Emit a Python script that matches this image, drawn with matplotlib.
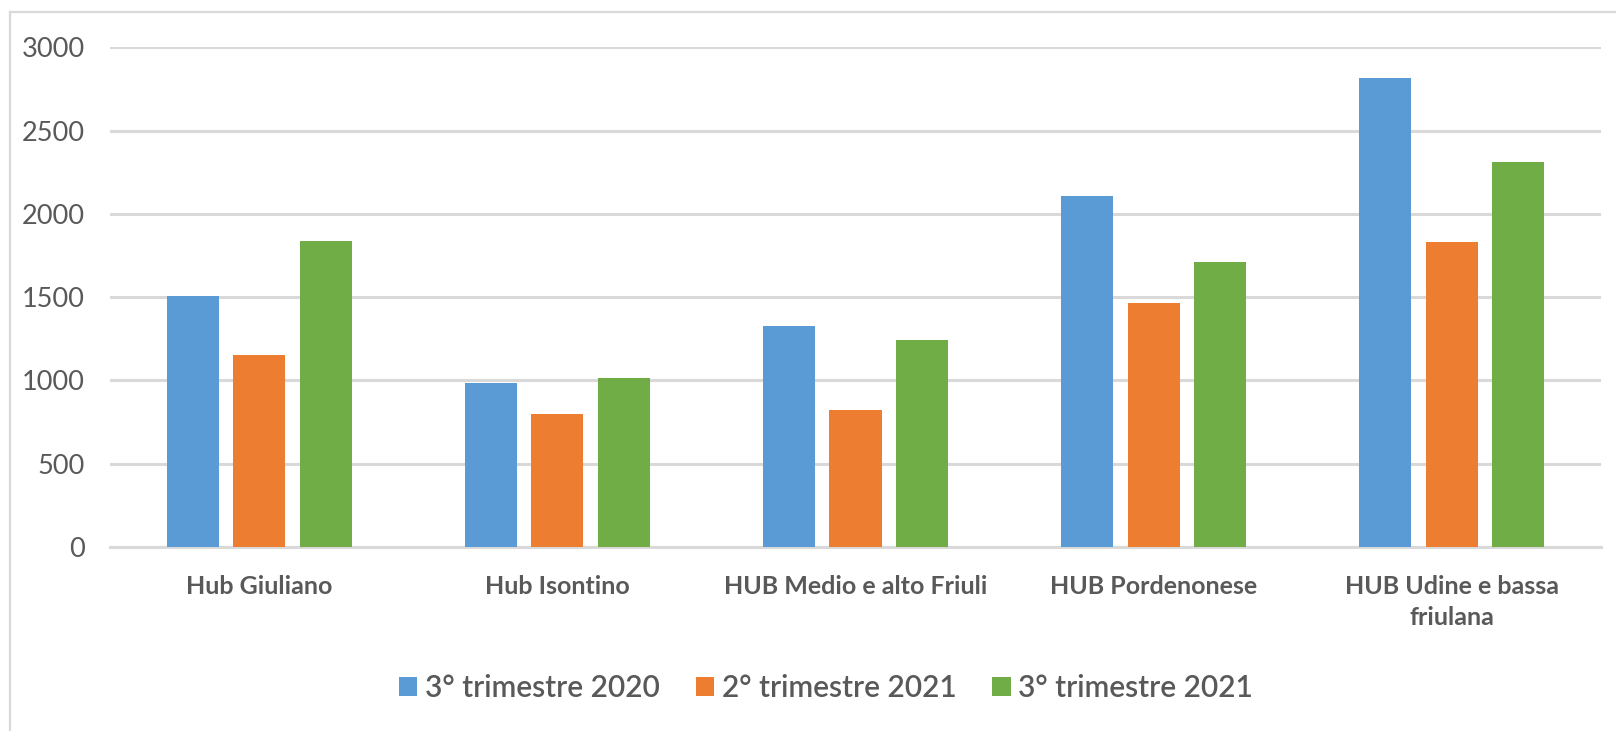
import matplotlib
matplotlib.use("Agg")
import matplotlib.pyplot as plt
from matplotlib.patches import Patch
from matplotlib.lines import Line2D
import numpy as np

categories = ["Hub Giuliano", "Hub Isontino", "HUB Medio e alto Friuli",
              "HUB Pordenonese", "HUB Udine e bassa\nfriulana"]
series_names = ["3° trimestre 2020", "2° trimestre 2021", "3° trimestre 2021"]
q3_2020 = [1505, 985, 1327, 2108, 2815]
q2_2021 = [1150, 800, 823, 1467, 1833]
q3_2021 = [1840, 1015, 1243, 1713, 2312]
yticks = [0, 500, 1000, 1500, 2000, 2500, 3000]

colors = ["#5B9BD5", "#ED7D31", "#70AD47"]
text_color = "#595959"
grid_color = "#D9D9D9"

plt.rcParams["font.family"] = ["Lato", "DejaVu Sans"]

W, H = 1616, 731
fig = plt.figure(figsize=(W / 100, H / 100), dpi=100)
ax = fig.add_axes([110 / W, (H - 547) / H, 1491 / W, (547 - 47.3) / H])

x = np.arange(len(categories))
step, width = 0.223, 0.175
for k, vals in enumerate([q3_2020, q2_2021, q3_2021]):
    ax.bar(x + (k - 1) * step, vals, width, color=colors[k], zorder=3)

ax.set_xlim(-0.5, len(categories) - 0.5)
ax.set_ylim(0, 3000)
ax.set_yticks(yticks)
ax.set_xticks(x)
ax.set_xticklabels(categories)

ax.yaxis.grid(True, color=grid_color, linewidth=2.2)
ax.set_axisbelow(True)
for side in ["top", "right", "left"]:
    ax.spines[side].set_visible(False)
ax.spines["bottom"].set_color(grid_color)
ax.spines["bottom"].set_linewidth(2.2)

ax.tick_params(axis="y", length=0, pad=18, labelsize=19.5, labelcolor=text_color)
ax.tick_params(axis="x", length=0, pad=20, labelsize=18, labelcolor=text_color)
for lbl in ax.get_xticklabels():
    lbl.set_fontweight("bold")
    lbl.set_linespacing(1.45)

handles = [Patch(facecolor=c, edgecolor="none") for c in colors]
fig.legend(handles, series_names, loc="center",
           bbox_to_anchor=(826 / W, 1 - 688 / H), ncol=3, frameon=False,
           prop={"size": 21.5, "weight": "semibold"}, labelcolor=text_color,
           handlelength=0.62, handleheight=0.62, handletextpad=0.25,
           columnspacing=1.2)

# chart area border (only the top and left edges fall inside the image)
fig.add_artist(Line2D([10 / W, 10 / W], [0, 1 - 12 / H], color=grid_color, lw=1.6))
fig.add_artist(Line2D([10 / W, 1], [1 - 12 / H, 1 - 12 / H], color=grid_color, lw=1.6))

fig.savefig("out.png", dpi=100, facecolor="white")
